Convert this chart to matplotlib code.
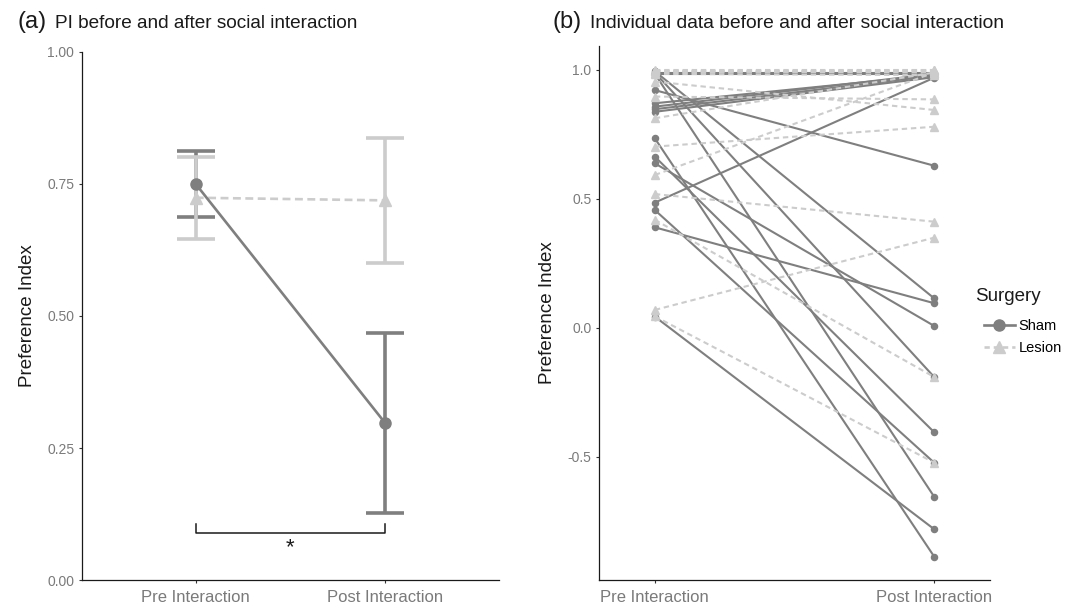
import matplotlib
matplotlib.use('Agg')
import matplotlib.pyplot as plt
from matplotlib.lines import Line2D

plt.rcParams['font.family'] = ['Liberation Sans', 'DejaVu Sans']

# --- data ---
groups = ['Pre Interaction', 'Post Interaction']

# panel (a): group means with error bar ends
sham_mean = [0.750, 0.297]
sham_lo = [0.688, 0.126]
sham_hi = [0.813, 0.467]
lesion_mean = [0.724, 0.719]
lesion_lo = [0.645, 0.601]
lesion_hi = [0.801, 0.837]

# panel (b): individual animals, pre / post
sham_pre = [0.995, 0.990, 0.985, 0.990, 0.985, 0.922, 0.871, 0.858, 0.848, 0.838,
            0.735, 0.664, 0.638, 0.486, 0.457, 0.390, 0.044]
sham_post = [0.115, -0.190, -0.654, 0.990, 0.985, 0.629, 0.980, 0.985, 0.978, 0.972,
             -0.886, -0.404, 0.008, 0.970, -0.522, 0.096, -0.780]
lesion_pre = [1.000, 0.995, 0.990, 0.995, 0.985, 0.955, 0.897, 0.813, 0.703, 0.593,
              0.519, 0.419, 0.070, 0.045]
lesion_post = [1.000, 0.995, 1.000, 0.990, 0.980, 0.845, 0.886, 0.990, 0.780, 0.990,
               0.412, -0.190, 0.350, -0.522]

SHAM_C = '#7f7f7f'
LESION_C = '#cccccc'
TICK_C = '#7a7a7a'
TXT_C = '#1a1a1a'

W, H = 1065, 609
fig = plt.figure(figsize=(W / 100, H / 100), dpi=100)


def style_axes(ax):
    for s in ['top', 'right']:
        ax.spines[s].set_visible(False)
    for s in ['left', 'bottom']:
        ax.spines[s].set_linewidth(0.9)
        ax.spines[s].set_color(TXT_C)
    ax.tick_params(axis='both', length=2.5, width=0.8, color='#333333')
    ax.tick_params(axis='x', labelsize=12, labelcolor=TICK_C, pad=5)
    ax.tick_params(axis='y', labelsize=10, labelcolor=TICK_C, pad=3)
    ax.set_ylabel('Preference Index', fontsize=13.5, color=TXT_C, labelpad=8)


# ---------- panel (a) ----------
ax = fig.add_axes([82 / W, 29 / H, (499 - 82) / W, (580 - 52) / H])
x = [1, 2]
ax.errorbar(x, sham_mean,
            yerr=[[m - l for m, l in zip(sham_mean, sham_lo)],
                  [h - m for m, h in zip(sham_mean, sham_hi)]],
            fmt='none', ecolor=SHAM_C, elinewidth=2.6, capsize=13.5, capthick=2.6, zorder=2)
ax.errorbar(x, lesion_mean,
            yerr=[[m - l for m, l in zip(lesion_mean, lesion_lo)],
                  [h - m for m, h in zip(lesion_mean, lesion_hi)]],
            fmt='none', ecolor=LESION_C, elinewidth=2.6, capsize=13.5, capthick=2.6, zorder=3)
ax.plot(x, lesion_mean, color=LESION_C, lw=1.9, ls=(0, (3, 1.7)), marker='^',
        ms=8, zorder=4)
ax.plot(x, sham_mean, color=SHAM_C, lw=1.9, marker='o', ms=8, zorder=5)

# significance bracket
ax.plot([1, 1, 2, 2], [0.106, 0.089, 0.089, 0.106], color=TXT_C, lw=1.1)
ax.text(1.5, 0.062, '*', ha='center', va='center', fontsize=16, color=TXT_C)

ax.set_xlim(0.4, 2.6)
ax.set_ylim(0, 1)
ax.set_xticks(x)
ax.set_xticklabels(groups)
ax.set_yticks([0, 0.25, 0.5, 0.75, 1.0])
ax.set_yticklabels(['0.00', '0.25', '0.50', '0.75', '1.00'])
style_axes(ax)

fig.text(18 / W, 1 - 28 / H, '(a)', fontsize=17, color=TXT_C, va='baseline')
fig.text(55 / W, 1 - 28 / H, 'PI before and after social interaction', fontsize=13.7,
         color=TXT_C, va='baseline')

# ---------- panel (b) ----------
bx = fig.add_axes([599 / W, 29 / H, (990 - 599) / W, (580 - 46) / H])
for a, b in zip(sham_pre, sham_post):
    bx.plot([1, 2], [a, b], color=SHAM_C, lw=1.5, marker='o', ms=4.4, zorder=2)
for a, b in zip(lesion_pre, lesion_post):
    bx.plot([1, 2], [a, b], color=LESION_C, lw=1.5, ls=(0, (2.6, 1.8)), marker='^',
            ms=5.2, zorder=3)

bx.set_xlim(0.8, 2.2)
bx.set_ylim(-0.977, 1.093)
bx.set_xticks([1, 2])
bx.set_xticklabels(groups)
bx.set_yticks([-0.5, 0.0, 0.5, 1.0])
bx.set_yticklabels(['-0.5', '0.0', '0.5', '1.0'])
style_axes(bx)

fig.text(553 / W, 1 - 28 / H, '(b)', fontsize=17, color=TXT_C, va='baseline')
fig.text(590 / W, 1 - 28 / H, 'Individual data before and after social interaction',
         fontsize=13.9, color=TXT_C, va='baseline')

# legend
fig.text(975 / W, 1 - 296 / H, 'Surgery', fontsize=13.5, color=TXT_C, va='center')
handles = [Line2D([], [], color=SHAM_C, lw=1.9, marker='o', ms=8),
           Line2D([], [], color=LESION_C, lw=1.9, ls=(0, (2, 1.5)), marker='^', ms=8)]
fig.legend(handles, ['Sham', 'Lesion'], loc='upper left',
           bbox_to_anchor=(984 / W, 1 - 319 / H), frameon=False, fontsize=10.5,
           handlelength=2.1, handletextpad=0.25, labelspacing=0.55, borderpad=0,
           borderaxespad=0)

fig.savefig('out.png', dpi=100)
